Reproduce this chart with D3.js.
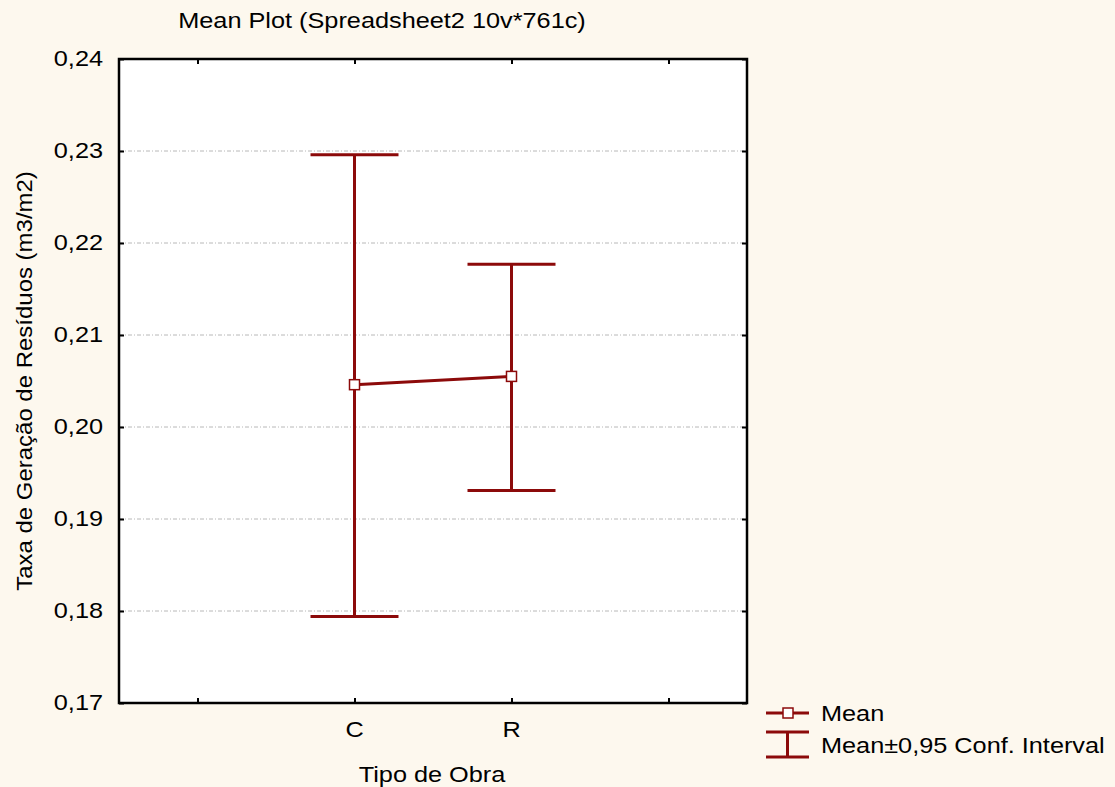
<!DOCTYPE html>
<html><head><meta charset="utf-8">
<script src="https://cdn.jsdelivr.net/npm/d3@7"></script>
<style>
html,body{margin:0;padding:0;background:#fdf8ee;}
text{font-family:"Liberation Sans",Arial,sans-serif;fill:#000;}
</style></head>
<body>
<script>
// ---- data ----
const categories = ["C", "R"];
const catPositions = [2, 3];
const means = [0.2046, 0.2055];
const ciLower = [0.1794, 0.1931];
const ciUpper = [0.2296, 0.2177];
const xTickValues = [1, 2, 3, 4];
const xTickLabels = ["", "C", "R", ""];
const yTickValues = [0.17, 0.18, 0.19, 0.20, 0.21, 0.22, 0.23, 0.24];
const gridValues = [0.18, 0.19, 0.20, 0.21, 0.22, 0.23];
const title = "Mean Plot (Spreadsheet2 10v*761c)";
const xTitle = "Tipo de Obra";
const yTitle = "Taxa de Geração de Resíduos (m3/m2)";
const legendLabels = ["Mean", "Mean±0,95 Conf. Interval"];

// ---- layout ----
const W = 1115, H = 787;
const L = 119, R = 747, T = 59, B = 703;
const red = "#8c0a0a";
const SX = 1.15;

const svg = d3.select("body").append("svg").attr("width", W).attr("height", H);
svg.append("rect").attr("width", W).attr("height", H).attr("fill", "#fdf8ee");
svg.append("rect").attr("x", L).attr("y", T).attr("width", R - L).attr("height", B - T).attr("fill", "#fff");

const x = d3.scaleLinear().domain([0.5, 4.5]).range([L, R]);
const y = d3.scaleLinear().domain([0.17, 0.24]).range([B, T]);

function txt(px, py, s, anchor, size, sx) {
  const g = svg.append("g").attr("transform", `translate(${px},${py}) scale(${sx},1)`);
  g.append("text").attr("text-anchor", anchor).attr("font-size", size).text(s);
  return g;
}

// gridlines
svg.append("g").selectAll("line").data(gridValues).join("line")
  .attr("x1", L).attr("x2", R).attr("y1", d => y(d)).attr("y2", d => y(d))
  .attr("stroke", "#b8b8b8").attr("stroke-width", 1).attr("stroke-dasharray", "4,2,1,2");

// axes (ticks inward)
const fmt = d => d3.format(".2f")(d).replace(".", ",");
const gl = svg.append("g").attr("transform", `translate(${L},0)`)
  .call(d3.axisLeft(y).tickValues(yTickValues).tickSizeInner(-5).tickSizeOuter(0).tickPadding(16).tickFormat(""));
const gr = svg.append("g").attr("transform", `translate(${R},0)`)
  .call(d3.axisRight(y).tickValues(yTickValues).tickSizeInner(-5).tickSizeOuter(0).tickFormat(""));
const gb = svg.append("g").attr("transform", `translate(0,${B})`)
  .call(d3.axisBottom(x).tickValues(xTickValues).tickSizeInner(-5).tickSizeOuter(0).tickFormat(""));
const gt = svg.append("g").attr("transform", `translate(0,${T})`)
  .call(d3.axisTop(x).tickValues(xTickValues).tickSizeInner(-5).tickSizeOuter(0).tickFormat(""));
[gl, gr, gb, gt].forEach(g => {
  g.select(".domain").remove();
  g.selectAll("line").attr("stroke", "#000").attr("stroke-width", 2);
});

// tick labels (stretched text)
yTickValues.forEach(v => txt(L - 16, y(v) + 6.5, fmt(v), "end", 22, SX));
xTickValues.forEach((v, i) => { if (xTickLabels[i]) txt(x(v), B + 34, xTickLabels[i], "middle", 22, SX); });

// border
svg.append("rect").attr("x", L).attr("y", T).attr("width", R - L).attr("height", B - T)
  .attr("fill", "none").attr("stroke", "#000").attr("stroke-width", 2.5);

// error bars
const capHalf = 44;
const eb = svg.append("g");
categories.forEach((c, i) => {
  const cx = x(catPositions[i]);
  eb.append("line").attr("x1", cx).attr("x2", cx).attr("y1", y(ciLower[i])).attr("y2", y(ciUpper[i]))
    .attr("stroke", red).attr("stroke-width", 3);
  [ciLower[i], ciUpper[i]].forEach(v => eb.append("line")
    .attr("x1", cx - capHalf).attr("x2", cx + capHalf).attr("y1", y(v)).attr("y2", y(v))
    .attr("stroke", red).attr("stroke-width", 3));
});

// mean line + markers
svg.append("path").datum(means)
  .attr("d", d3.line().x((d, i) => x(catPositions[i])).y(d => y(d)))
  .attr("fill", "none").attr("stroke", red).attr("stroke-width", 3);
svg.append("g").selectAll("rect").data(means).join("rect")
  .attr("x", (d, i) => x(catPositions[i]) - 5).attr("y", d => y(d) - 5)
  .attr("width", 10).attr("height", 10)
  .attr("fill", "#fff").attr("stroke", red).attr("stroke-width", 1.5);

// titles
txt(382, 28, title, "middle", 22, SX);
txt(432, 782, xTitle, "middle", 22, SX);
svg.append("g").attr("transform", `translate(32,381) rotate(-90) scale(1.09,1)`)
  .append("text").attr("text-anchor", "middle").attr("font-size", 22).text(yTitle);

// legend
const lg = svg.append("g");
lg.append("line").attr("x1", 766).attr("x2", 809).attr("y1", 713).attr("y2", 713).attr("stroke", red).attr("stroke-width", 3);
lg.append("rect").attr("x", 783).attr("y", 708).attr("width", 10).attr("height", 10)
  .attr("fill", "#fff").attr("stroke", red).attr("stroke-width", 1.5);
[732, 757].forEach(yy => lg.append("line").attr("x1", 766).attr("x2", 809).attr("y1", yy).attr("y2", yy).attr("stroke", red).attr("stroke-width", 3));
lg.append("line").attr("x1", 787.5).attr("x2", 787.5).attr("y1", 732).attr("y2", 757).attr("stroke", red).attr("stroke-width", 3);
txt(821, 721, legendLabels[0], "start", 22, SX);
txt(821, 753, legendLabels[1], "start", 22, SX);
</script>
</body></html>
